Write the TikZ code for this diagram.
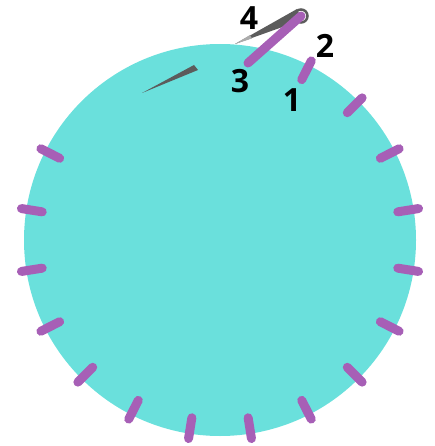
\documentclass[tikz,border=0pt]{standalone}
\usepackage{fontspec}
\setmainfont{Open Sans}
\definecolor{dialteal}{HTML}{6AE0DC}
\definecolor{tickpurple}{HTML}{A75FB6}
\definecolor{needlegray}{HTML}{5C5C5C}
\definecolor{needlelight}{HTML}{ABABAB}

\begin{document}
\begin{tikzpicture}[
  x=1pt,
  y=-1pt,
  every node/.style={font=\fontsize{32}{32}\selectfont\bfseries},
  tickmark/.style={line width=9pt, line cap=round, draw=tickpurple},
  needle/.style={fill=needlegray, draw=none}
]
\useasboundingbox (0,0) rectangle (434,446);
\coordinate (C) at (220,240);
\fill[dialteal] (C) circle[radius=196];

% ticks round the dial
\foreach \a in {9,27,45,63,153,171,...,351}
  \draw[tickmark] ({220+180*cos(\a)},{240-180*sin(\a)}) -- ({220+201*cos(\a)},{240-201*sin(\a)});

% short needle
\coordinate (tipA) at (142,93);
\fill[needle] (tipA) -- (194,65) -- (198,70) -- cycle;

% long needle and its pivot
\coordinate (tipB) at (235,44);
\coordinate (pivot) at (301,16);
\fill[needle] (tipB) -- (297,9) -- (302,20) -- cycle;
\fill[needlelight] (tipB) -- (250,35) -- (252,38.5) -- cycle;
\draw[needlegray, line width=2.5pt] (pivot) circle[radius=6.5];
\draw[tickmark] (248,63) -- (pivot);

\node (one) at (292,100) {1};
\node (two) at (325,46) {2};
\node (three) at (240,81) {3};
\node (four) at (249,18) {4};
\end{tikzpicture}
\end{document}
